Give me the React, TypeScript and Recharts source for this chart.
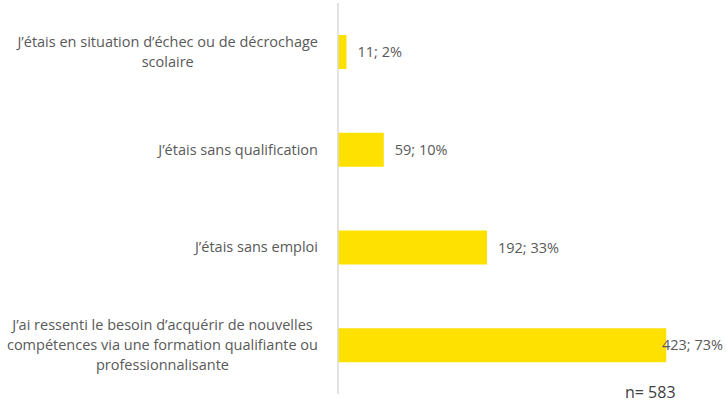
import React from 'react';
import { BarChart, Bar, XAxis, YAxis, LabelList } from 'recharts';

const categories = [
  'J’étais en situation d’échec ou de décrochage\nscolaire',
  'J’étais sans qualification',
  'J’étais sans emploi',
  'J’ai ressenti le besoin d’acquérir de nouvelles\ncompétences via une formation qualifiante ou\nprofessionnalisante',
];
const counts = [11, 59, 192, 423];
const percents = [2, 10, 33, 73];
const total = 583;

const data = categories.map((name, i) => ({ name, value: counts[i], pct: percents[i] }));

const FONT = '"Open Sans", sans-serif';
const FONT_SIZE = 14.5;
const TEXT_COLOR = '#595959';
const CHART_W = 726;
const LABEL_RIGHT = 318;

let ctx: CanvasRenderingContext2D | null = null;
const measure = (s: string, size: number) => {
  if (!ctx) ctx = document.createElement('canvas').getContext('2d');
  if (!ctx) return s.length * size * 0.5;
  ctx.font = `${size}px ${FONT}`;
  return ctx.measureText(s).width;
};

// multi-line category labels: lines centred on each other, block right-aligned to the axis
const CategoryTick = (props: any) => {
  const { y, payload } = props;
  const lines: string[] = String(payload.value).split('\n');
  const maxW = Math.max(...lines.map((l) => measure(l, FONT_SIZE)));
  const cx = LABEL_RIGHT - maxW / 2;
  const lh = 20;
  const start = y - ((lines.length - 1) * lh) / 2;
  return (
    <text textAnchor="middle" fontFamily={FONT} fontSize={FONT_SIZE} fill={TEXT_COLOR}>
      {lines.map((l, i) => (
        <tspan key={i} x={cx} y={start + i * lh} dy="0.35em">
          {l}
        </tspan>
      ))}
    </text>
  );
};

const ValueLabel = (props: any) => {
  const { x, y, width, height, index } = props;
  const txt = `${counts[index]}; ${percents[index]}%`;
  const w = measure(txt, FONT_SIZE);
  const tx = Math.min(x + width + 11, CHART_W - 3 - w);
  return (
    <text x={tx} y={y + height / 2} dy="0.35em" fontFamily={FONT} fontSize={FONT_SIZE} fill={TEXT_COLOR}>
      {txt}
    </text>
  );
};

export default function App() {
  return (
    <div style={{ position: 'absolute', left: 0, top: 0, width: CHART_W, height: 402, background: '#fff' }}>
      <BarChart
        width={CHART_W}
        height={402}
        data={data}
        layout="vertical"
        margin={{ top: 3, right: 0, bottom: 8, left: 0 }}
      >
        <XAxis type="number" domain={[0, 500]} hide />
        <YAxis
          type="category"
          dataKey="name"
          width={338}
          tickLine={false}
          axisLine={{ stroke: '#d9d9d9', strokeWidth: 1.5 }}
          tick={<CategoryTick />}
          interval={0}
        />
        <Bar dataKey="value" fill="#ffe100" barSize={34} isAnimationActive={false}>
          <LabelList dataKey="value" content={<ValueLabel />} />
        </Bar>
      </BarChart>
      <svg width={CHART_W} height={402} style={{ position: 'absolute', left: 0, top: 0, pointerEvents: 'none' }}>
        <text x={625} y={398} fontFamily={FONT} fontSize={16} fill="#404040">
          {`n= ${total}`}
        </text>
      </svg>
    </div>
  );
}
